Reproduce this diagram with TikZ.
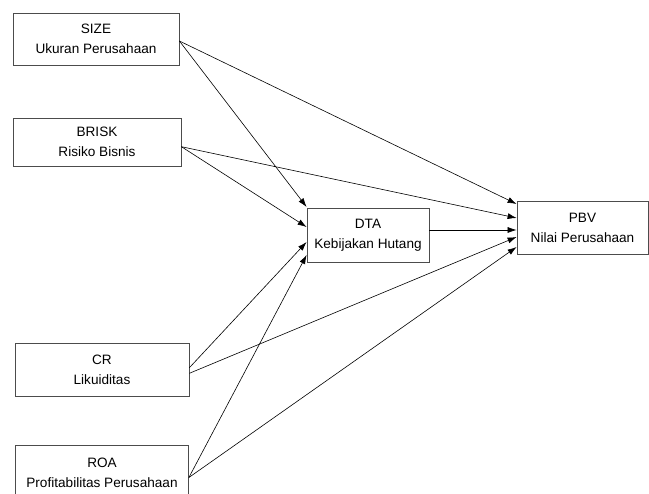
\documentclass[tikz,border=0pt]{standalone}
\usepackage{fontspec}
\setmainfont{Liberation Sans}
\usetikzlibrary{arrows.meta}

\begin{document}
\begin{tikzpicture}
[x=1pt, y=-1pt,
 lineDecorate/.style={-{Latex[length=9pt,width=6pt]}, line width=0.6pt},
 boxDecorate/.style={shape=rectangle, draw=black!70, line width=0.8pt, inner sep=0pt, align=center, font=\fontsize{13.6}{20}\selectfont}]

\useasboundingbox (0,0) rectangle (649,494);

 \node (size) at (96,39) [boxDecorate, minimum width=166pt, minimum height=52pt] {SIZE\\Ukuran Perusahaan};
 \node (brisk) at (97,142) [boxDecorate, minimum width=168pt, minimum height=48pt] {BRISK\\Risiko Bisnis};
 \node (dta) at (368,235) [boxDecorate, minimum width=122pt, minimum height=54pt] {DTA\\Kebijakan Hutang};
 \node (pbv) at (582.5,227.5) [boxDecorate, minimum width=131pt, minimum height=53pt] {PBV\\Nilai Perusahaan};
 \node (cr) at (102,369.5) [boxDecorate, minimum width=174pt, minimum height=53pt] {CR\\Likuiditas};
 \node (roa) at (102,472.5) [boxDecorate, minimum width=173pt, minimum height=55pt] {ROA\\Profitabilitas Perusahaan};

\path
\foreach \startnode/\sy/\endnode/\ey in {
size/-2/dta/28,
size/-2/pbv/23.5,
brisk/-4.7/dta/8,
brisk/-4.7/pbv/9.5,
cr/1.8/dta/-7,
cr/-3.8/pbv/-9.5,
roa/-5/dta/-20,
roa/-5/pbv/-19.5,
dta/5/pbv/-2.5
 }
        {
          ([yshift=\sy pt]\startnode.east) edge[lineDecorate] ([yshift=\ey pt]\endnode.west)
        };

\end{tikzpicture}
\end{document}
